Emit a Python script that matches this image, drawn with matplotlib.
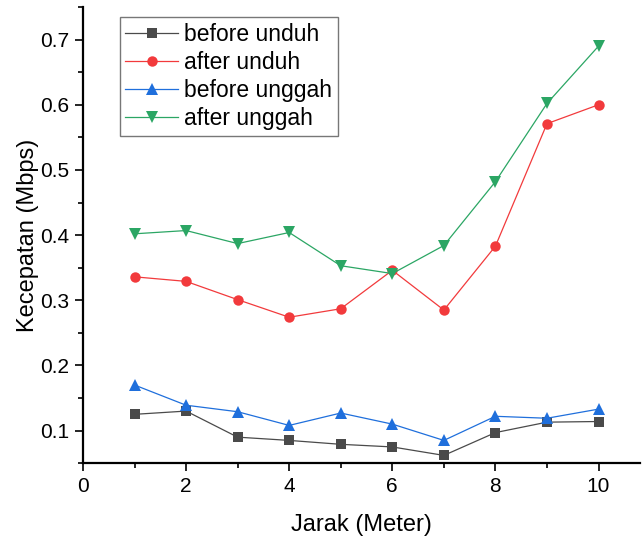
import matplotlib
matplotlib.use("Agg")
import matplotlib.pyplot as plt
from matplotlib.ticker import MultipleLocator

plt.rcParams["font.family"] = ["Liberation Sans", "DejaVu Sans"]

# ── data ─────────────────────────────────────────────────────────────────────
jarak = [1, 2, 3, 4, 5, 6, 7, 8, 9, 10]
before_unduh = [0.125, 0.130, 0.090, 0.085, 0.079, 0.075, 0.062, 0.097, 0.113, 0.114]
after_unduh = [0.336, 0.329, 0.301, 0.274, 0.287, 0.346, 0.285, 0.383, 0.571, 0.600]
before_unggah = [0.170, 0.139, 0.129, 0.108, 0.127, 0.110, 0.085, 0.122, 0.119, 0.133]
after_unggah = [0.402, 0.407, 0.387, 0.404, 0.353, 0.341, 0.384, 0.482, 0.602, 0.690]

series = [
    ("before unduh", before_unduh, "#4a4a4a", "s", 7.0),
    ("after unduh", after_unduh, "#f23a3c", "o", 7.5),
    ("before unggah", before_unggah, "#1f6fdc", "^", 8.0),
    ("after unggah", after_unggah, "#2ba664", "v", 8.0),
]

fig = plt.figure(figsize=(6.43, 5.38), dpi=100)
ax = fig.add_axes([0.129, 0.139, 0.866, 0.848])

for label, vals, color, marker, ms in series:
    ax.plot(jarak, vals, color=color, marker=marker, markersize=ms,
            linewidth=0.9, label=label, markeredgewidth=0)

ax.set_xlim(0, 10.8)
ax.set_ylim(0.05, 0.75)
ax.xaxis.set_major_locator(MultipleLocator(2))
ax.xaxis.set_minor_locator(MultipleLocator(1))
ax.yaxis.set_minor_locator(MultipleLocator(0.05))
ax.set_yticks([0.1, 0.2, 0.3, 0.4, 0.5, 0.6, 0.7])
ax.set_yticklabels(["0.1", "0.2", "0.3", "0.4", "0.5", "0.6", "0.7"])

for side in ("top", "right"):
    ax.spines[side].set_visible(False)
for side in ("left", "bottom"):
    ax.spines[side].set_linewidth(1.6)

ax.tick_params(which="major", direction="out", length=6, width=1.2,
               labelsize=15, pad=4, colors="black")
ax.tick_params(which="minor", direction="out", length=3.5, width=1.2)

ax.set_xlabel("Jarak (Meter)", fontsize=17, labelpad=13)
ax.set_ylabel("Kecepatan (Mbps)", fontsize=17, labelpad=1)

leg = ax.legend(loc="upper left", bbox_to_anchor=(0.066, 0.978), fontsize=16.5,
                frameon=True, fancybox=False, edgecolor="#555555",
                handlelength=2.3, handletextpad=0.25, borderpad=0.25,
                labelspacing=0.22, borderaxespad=0)
leg.get_frame().set_linewidth(1.0)

fig.savefig("out.png", dpi=100)
plt.close(fig)
